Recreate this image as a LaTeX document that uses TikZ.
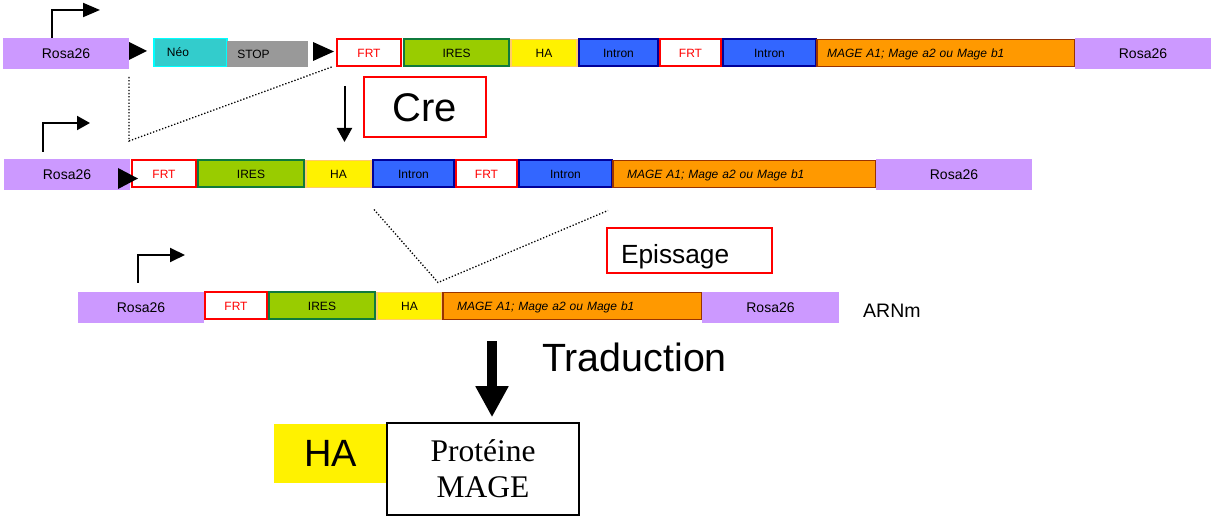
\documentclass[tikz,border=0pt]{standalone}
\usepackage{fontspec}
\setmainfont{Liberation Sans}
\newfontfamily\serifface{Liberation Serif}
\usetikzlibrary{arrows.meta,calc}

\definecolor{rosaC}{HTML}{CC99FF}
\definecolor{neoC}{HTML}{33CCCC}
\definecolor{neoD}{HTML}{00FFFF}
\definecolor{stopC}{HTML}{999999}
\definecolor{iresC}{HTML}{99CC00}
\definecolor{iresD}{HTML}{0F7A3C}
\definecolor{haD}{HTML}{FFCC66}
\definecolor{intronC}{HTML}{3366FF}
\definecolor{intronD}{HTML}{000099}
\definecolor{mageC}{HTML}{FF9900}
\definecolor{mageD}{HTML}{993300}
\definecolor{frtR}{HTML}{FF0000}

\newcommand\px[1]{\fontsize{#1pt}{#1pt}\selectfont}
% segment: style, name, x-left, x-right, y-centre, height, label
\newcommand\seg[7]{\node[#1, minimum width={#4-#3}, minimum height=#6, anchor=west] (#2) at (#3,#5) {#7};}

\tikzset{
  box/.style={inner sep=0pt, outer sep=0pt, font={\px{12}}, text height=8.6pt, text depth=0pt},
  rosa/.style={box, fill=rosaC, font={\px{14}}, text height=10pt},
  neo/.style={box, fill=neoC, draw=neoD, line width=1.5pt},
  stopbox/.style={box, fill=stopC},
  frt/.style={box, fill=white, draw=frtR, line width=2pt, text=frtR},
  ires/.style={box, fill=iresC, draw=iresD, line width=2pt},
  habox/.style={box, fill=yellow, draw=haD, line width=1.5pt},
  intron/.style={box, fill=intronC, draw=intronD, line width=2pt},
  mage/.style={box, fill=mageC, draw=mageD, line width=1.5pt, font={\px{12}\itshape}, align=left},
  promoter/.style={line width=2pt, -{Triangle[length=#1pt,width=14pt]}},
  fwd/.style={fill=black},
  cut/.style={line width=1.3pt, dash pattern=on 1.3pt off 1.9pt},
  redbox/.style={draw=frtR, line width=2pt, fill=white, inner sep=0pt, outer sep=0pt},
}

\begin{document}
\begin{tikzpicture}[x=1pt,y=-1pt]
\useasboundingbox (0,0) rectangle (1211,518);

% ---- genomic locus before recombination
\seg{rosa}{r1rosaL}{3}{129}{53.5}{31}{Rosa26}
\seg{neo}{r1neo}{154}{227}{52.5}{28}{\hspace*{-25pt}Néo}
\seg{stopbox}{r1stop}{227}{308}{54}{26}{\hspace*{-28pt}STOP}
\seg{frt}{r1frtA}{337}{401}{53}{27}{FRT}
\seg{ires}{r1ires}{404}{509}{53}{27}{IRES}
\seg{habox}{r1ha}{511}{577}{53}{27}{HA}
\seg{intron}{r1intA}{579}{658}{53}{27}{Intron}
\seg{frt}{r1frtB}{660}{721}{53}{27}{FRT}
\seg{intron}{r1intB}{723}{816}{53}{27}{Intron}
\node[mage, inner xsep=10pt, text width=238pt, minimum height=27, anchor=west] (r1mage) at (817,53) {MAGE A1; Mage a2 ou Mage b1};
\seg{rosa}{r1rosaR}{1075}{1211}{53.5}{31}{Rosa26}
\fill[fwd] (129,42) -- (147,51) -- (129,60) -- cycle;
\fill[fwd] (313,42) -- (334,51.5) -- (313,61) -- cycle;
\draw[promoter=17] ($(r1rosaL.north west)+(49,0)$) |- ++(48,-28);

% excised Neo-STOP cassette
\draw[cut] ($(r1rosaL.south east)+(0,8)$) -- ++(0,64) -- ($(r1frtA.south west)+(-4,0)$);

% Cre recombination
\node[redbox, minimum width=122, minimum height=60, font={\px{40}}] (cre) at (424.5,107.5) {Cre};
\draw[line width=2pt, -{Triangle[length=14pt,width=15pt]}] ($(cre.west)+(-19,-21.5)$) -- ($(cre.west)+(-19,34.5)$);

% ---- locus after recombination
\seg{rosa}{r2rosaL}{4}{130}{174.5}{31}{Rosa26}
\seg{frt}{r2frtA}{132}{196}{174}{27}{FRT}
\seg{ires}{r2ires}{198}{304}{174}{27}{IRES}
\seg{habox}{r2ha}{306}{371}{174}{27}{HA}
\seg{intron}{r2intA}{373}{454}{174}{27}{Intron}
\seg{frt}{r2frtB}{456}{517}{174}{27}{FRT}
\seg{intron}{r2intB}{519}{612}{174}{27}{Intron}
\node[mage, inner xsep=14pt, text width=235pt, minimum height=27, anchor=west] (r2mage) at (613,174) {MAGE A1; Mage a2 ou Mage b1};
\seg{rosa}{r2rosaR}{876}{1032}{174.5}{31}{Rosa26}
\fill[fwd] (118,168) -- (138,178.5) -- (118,189) -- cycle;
\draw[promoter=13] ($(r2rosaL.north west)+(39,-7)$) |- ++(47,-29);

% splicing
\draw[cut] ($(r2intA.south west)+(1,22)$) -- ($(r2intA.south west)+(65,95)$) -- ($(r2intB.south east)+(-4,23)$);
\node[redbox, minimum width=165, minimum height=45, text width=137pt, inner xsep=14pt, align=left,
      font={\px{26.3}}, text height=27pt, text depth=0pt] (episs) at (689.5,250.5) {Epissage};

% ---- mRNA
\seg{rosa}{r3rosaL}{78}{204}{307.5}{31}{Rosa26}
\seg{frt}{r3frt}{205}{267}{306}{27}{FRT}
\seg{ires}{r3ires}{269}{375}{306}{27}{IRES}
\seg{habox}{r3ha}{377}{442}{306}{27}{HA}
\node[mage, inner xsep=14pt, text width=231pt, minimum height=27, anchor=west] (r3mage) at (443,306) {MAGE A1; Mage a2 ou Mage b1};
\seg{rosa}{r3rosaR}{702}{839}{307.5}{31}{Rosa26}
\draw[promoter=15] ($(r3rosaL.north west)+(60,-9)$) |- ++(47,-28);
\node[anchor=base west, inner sep=0pt, font={\px{19.5}}] (arnm) at (863,318) {ARNm};

% ---- translation
\node[fill=yellow, minimum width=113, minimum height=59, inner sep=0pt, font={\px{38}}] (hatag) at (330.5,453.5) {HA};
\node[draw=black, line width=1.5pt, fill=white, minimum width=192, minimum height=92, inner sep=0pt,
      align=center, font={\serifface\fontsize{31.5pt}{36pt}\selectfont}] (prot) at (483,469) {Protéine\\MAGE};
\draw[line width=10pt, -{Triangle[length=31pt,width=31pt]}] ($(prot.north)+(9,-81)$) -- ($(prot.north)+(9,-5)$);
\node[anchor=base west, inner sep=0pt, font={\px{39.4}}] (trad) at (542,372) {Traduction};
\end{tikzpicture}
\end{document}
